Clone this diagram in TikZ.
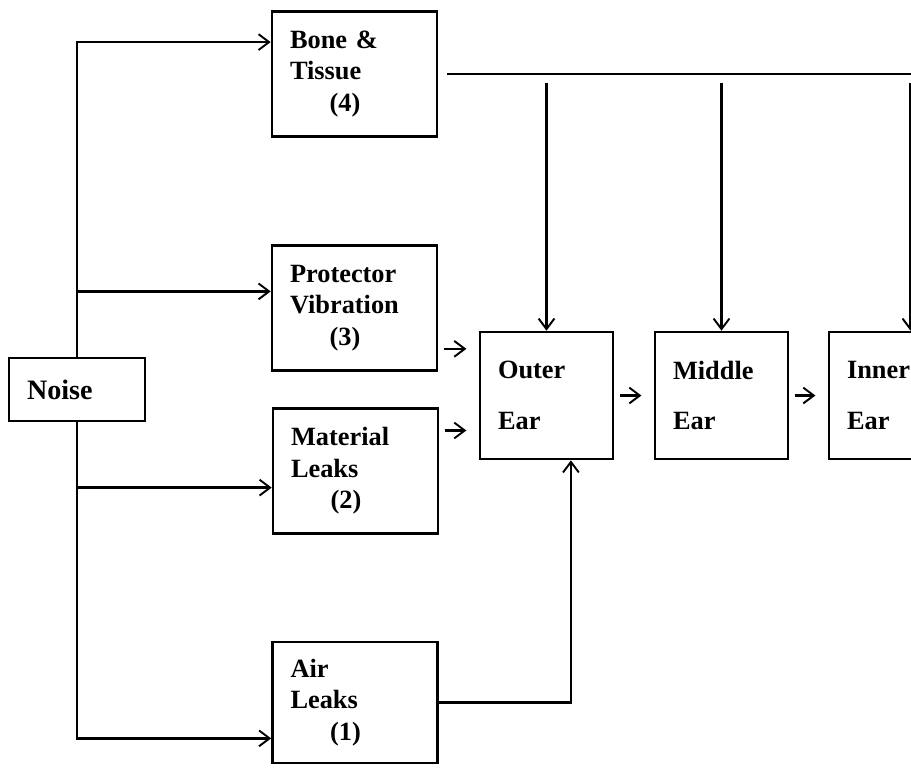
\documentclass[tikz,border=0pt]{standalone}
\usepackage{fontspec}
\setmainfont{Liberation Serif}
\usepackage{tikz}
\usetikzlibrary{arrows.meta,positioning,calc}

\begin{document}
\begin{tikzpicture}[x=0.02cm,y=-0.02cm,
    every node/.style={font=\fontsize{15}{18}\selectfont\bfseries},
    blk/.style={draw,line width=1.5pt,minimum width=3.3cm,minimum height=2.5cm,
      text width=2.58cm,inner xsep=0.36cm,align=left},
    earbox/.style={blk,minimum width=2.66cm,minimum height=2.54cm,text width=1.94cm},
    wire/.style={line width=1.5pt},
    arr/.style={wire,-{Straight Barb[length=6pt,width=9pt,line width=1.1pt]}}
  ]
  \useasboundingbox (0,0) rectangle (911,767);
  \clip (0,0) rectangle (911,767);

  % blocks
  \node[blk,minimum width=2.72cm,minimum height=1.26cm,text width=2.0cm,
    font=\fontsize{16}{18}\selectfont\bfseries] (noise) at (77,389.5) {Noise};
  \node[blk] (bone) at (354.5,74) {Bone \&\\Tissue\\\hspace*{1.5em}(4)};
  \node[blk] (protector) at (354.5,308) {Protector\\Vibration\\\hspace*{1.5em}(3)};
  \node[blk] (material) at (355.5,471) {Material\\Leaks\\\hspace*{1.5em}(2)};
  \node[blk,minimum height=2.42cm] (airleak) at (355,702.5) {Air\\Leaks\\\hspace*{1.5em}(1)};
  \node[earbox] (outer) at (546.5,395.5) {Outer\\[11pt]Ear};
  \node[earbox] (middle) at (721.5,395.5) {Middle\\[11pt]Ear};
  \node[earbox] (inner) at (895.5,395.5) {Inner\\[11pt]Ear};

  % entry points
  \coordinate (bonein) at ($(bone.north west)!0.25!(bone.south west)$);
  \coordinate (protin) at ($(protector.north west)!0.37!(protector.south west)$);
  \coordinate (matin) at ($(material.north west)!0.63!(material.south west)$);
  \coordinate (airin) at ($(airleak.north west)!0.79!(airleak.south west)$);
  \coordinate (outin1) at ($(outer.north west)!0.14!(outer.south west)$);
  \coordinate (outin2) at ($(outer.north west)!0.77!(outer.south west)$);
  \coordinate (outbot) at ($(outer.south west)!0.68!(outer.south east)$);
  \coordinate (innertop) at ($(inner.north west)!0.61!(inner.north east)$);
  \coordinate (busend) at (1000,72);

  % noise paths
  \draw[arr] (noise.north) |- (bonein);
  \draw[arr] (noise.north |- protin) -- (protin);
  \draw[arr] (noise.south) |- (airin);
  \draw[arr] (noise.south |- matin) -- (matin);

  % into the ear
  \draw[arr,shorten <=3pt,shorten >=7pt] (protector.east |- outin1) -- (outin1);
  \draw[arr,shorten <=3pt,shorten >=7pt] (material.east |- outin2) -- (outin2);
  \draw[arr] (airleak.east) -| (outbot);
  \draw[arr,shorten <=3pt,shorten >=7pt] (outer) -- (middle);
  \draw[arr,shorten <=3pt,shorten >=7pt] (middle) -- (inner);

  % bone conduction
  \draw[wire] ([xshift=5pt]bone.east) -- (bone.east -| busend);
  \draw[arr,shorten <=5pt] (outer.north |- bone.east) -- (outer.north);
  \draw[arr,shorten <=5pt] (middle.north |- bone.east) -- (middle.north);
  \draw[arr,shorten <=5pt] (innertop |- bone.east) -- (innertop);
\end{tikzpicture}
\end{document}
